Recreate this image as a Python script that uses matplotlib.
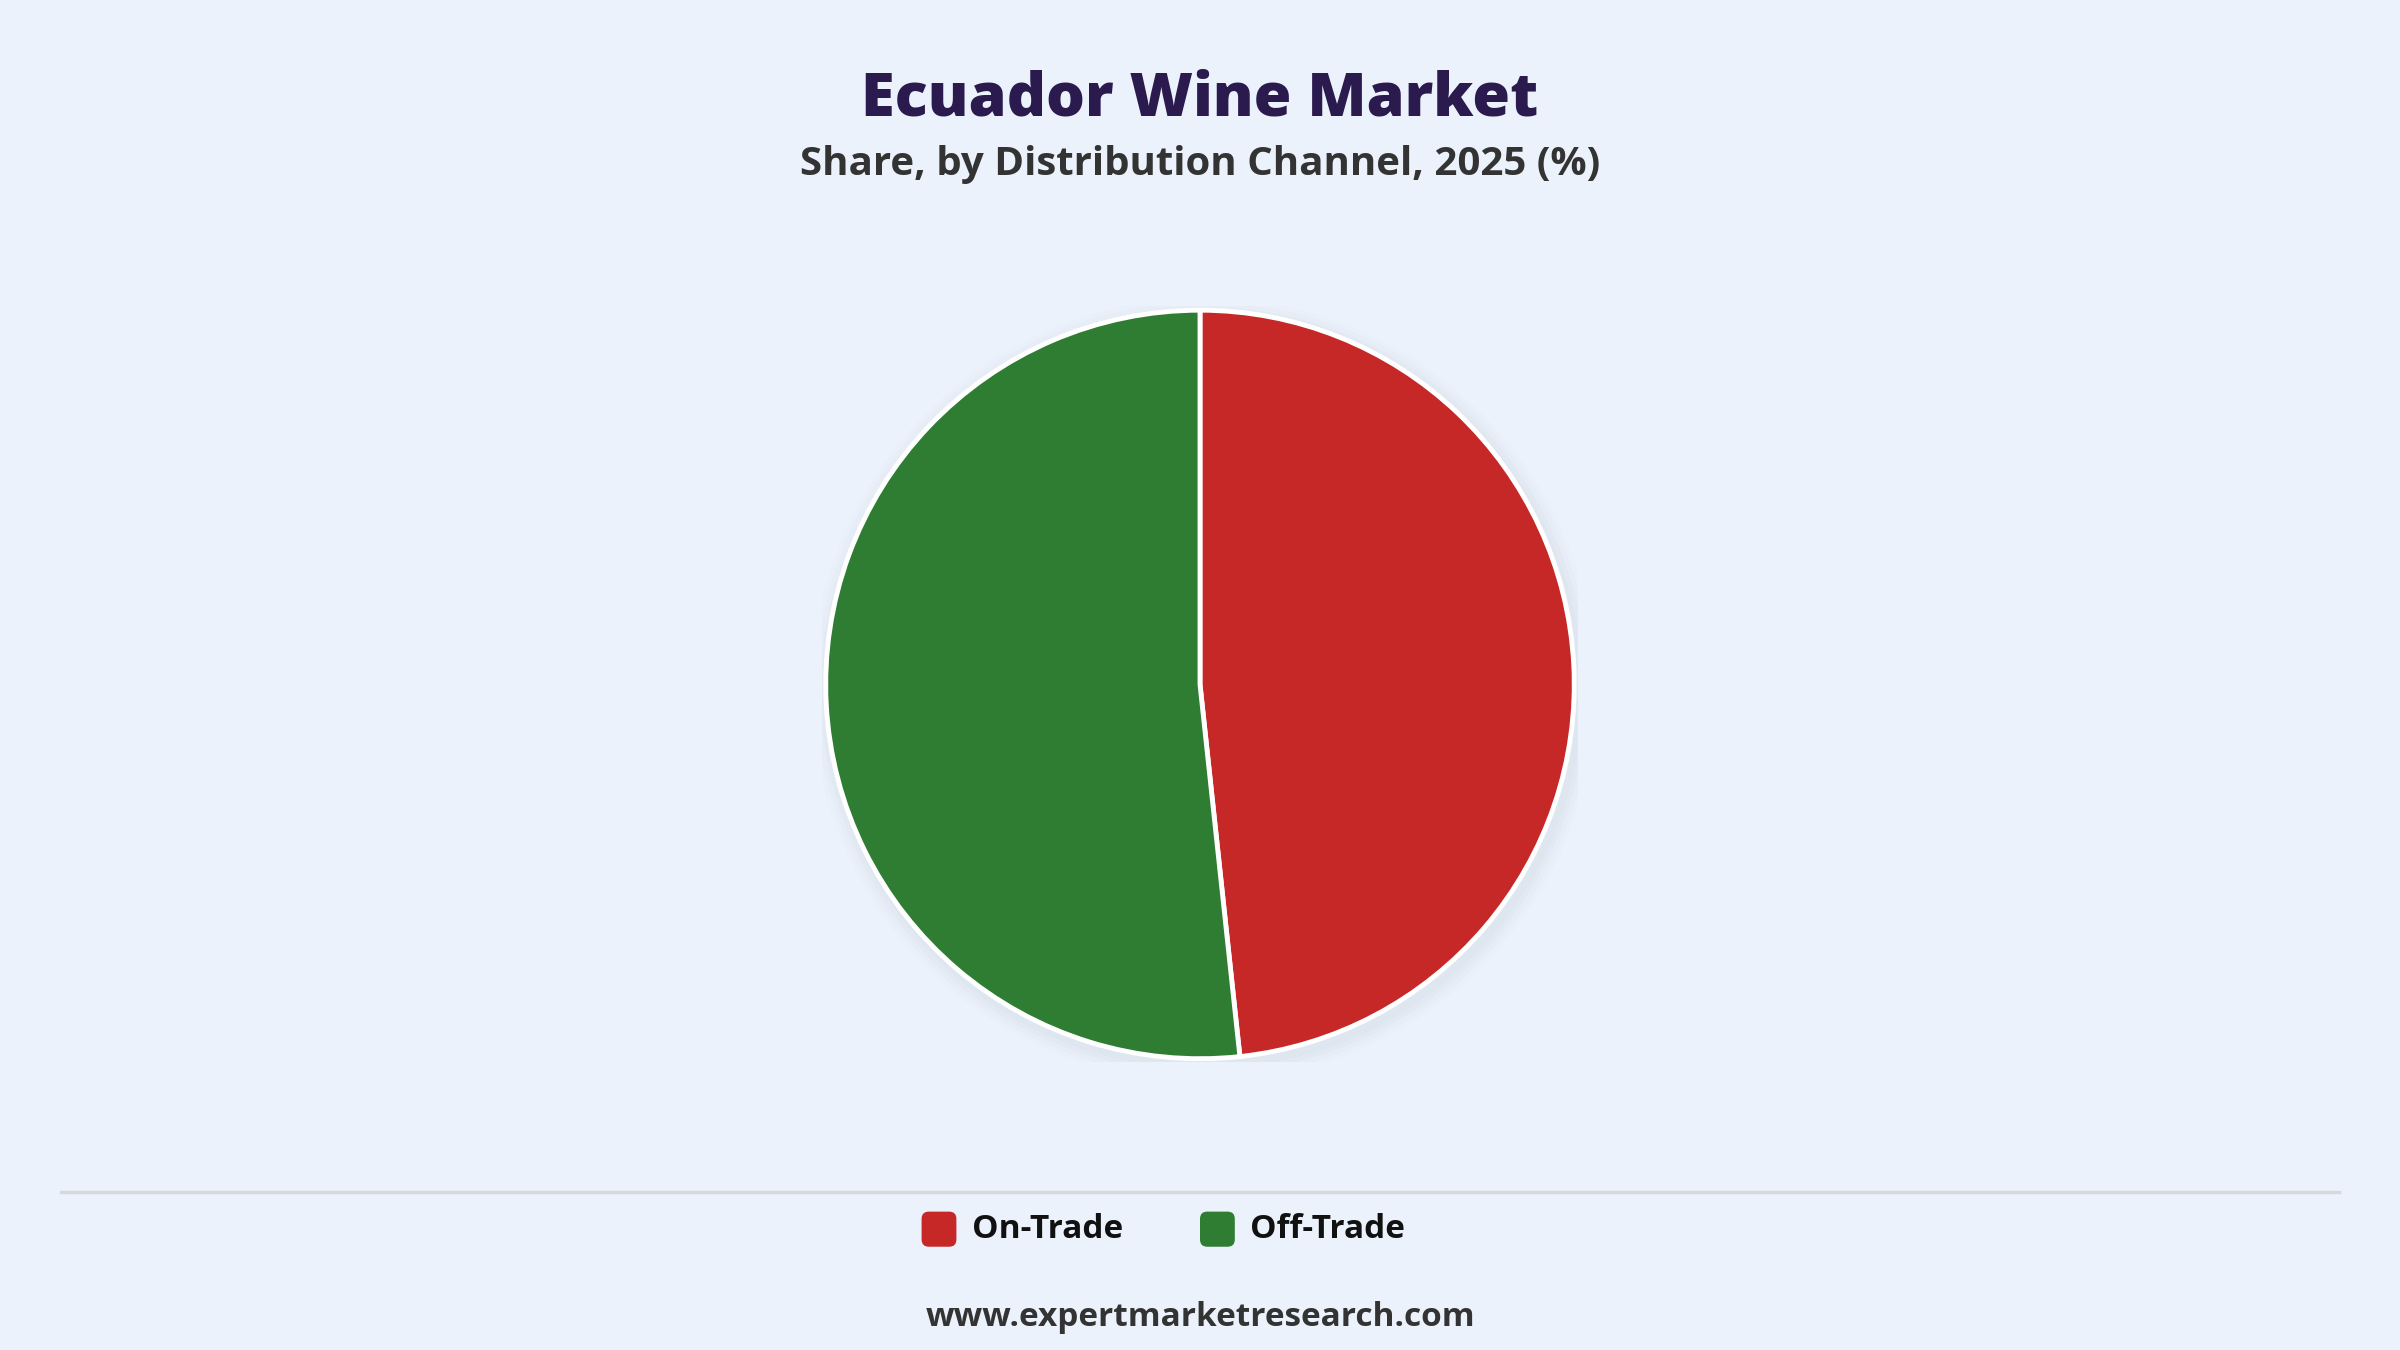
import matplotlib.pyplot as plt
from matplotlib.patches import Circle, FancyBboxPatch
from matplotlib.lines import Line2D

categories = ["On-Trade", "Off-Trade"]
shares = [48.3, 51.7]
colors = ["#C62828", "#2E7D32"]

bg = "#EBF2FB"
plt.rcParams['font.family'] = ['Open Sans', 'DejaVu Sans']

fig = plt.figure(figsize=(24, 13.5), dpi=100, facecolor=bg)

# titles
fig.text(0.5, 0.926, "Ecuador Wine Market", ha="center", va="center",
         fontsize=44, fontweight="heavy", color="#2A1A4E")
fig.text(0.5, 0.878, "Share, by Distribution Channel, 2025 (%)", ha="center", va="center",
         fontsize=29, fontweight="bold", color="#333333")

# pie
h = 0.56
w = h * 13.5 / 24
ax = fig.add_axes([0.5 - w / 2, 0.493 - h / 2, w, h])
ax.set_facecolor(bg)
for i, a in enumerate([0.05, 0.04, 0.03, 0.02]):
    ax.add_patch(Circle((0.01, -0.015), 1.0 + 0.012 * (i + 1), color="#9aa4b0", alpha=a, lw=0, zorder=0))
ax.pie(shares, colors=colors, startangle=90, counterclock=False,
       wedgeprops=dict(edgecolor="white", linewidth=3.5))
ax.set_xlim(-1.01, 1.01)
ax.set_ylim(-1.01, 1.01)
ax.set_aspect("equal")
ax.axis("off")

# separator line
fig.add_artist(Line2D([40 / 1568, 1528 / 1568], [0.117, 0.117], color="#D5D9DE", lw=2.5))

# legend
lx = [0.384, 0.500]
for x, name, c in zip(lx, categories, colors):
    fig.add_artist(FancyBboxPatch((x, 0.0765), 0.0145, 0.026, boxstyle="round,pad=0,rounding_size=0.003",
                                  transform=fig.transFigure, facecolor=c, edgecolor="none",
                                  mutation_aspect=24 / 13.5))
    fig.text(x + 0.021, 0.0895, name, ha="left", va="center", fontsize=24,
             fontweight="bold", color="#111111")

fig.text(0.5, 0.024, "www.expertmarketresearch.com", ha="center", va="center",
         fontsize=24, fontweight="bold", color="#333333")

fig.savefig("out.png", dpi=100, facecolor=bg)
